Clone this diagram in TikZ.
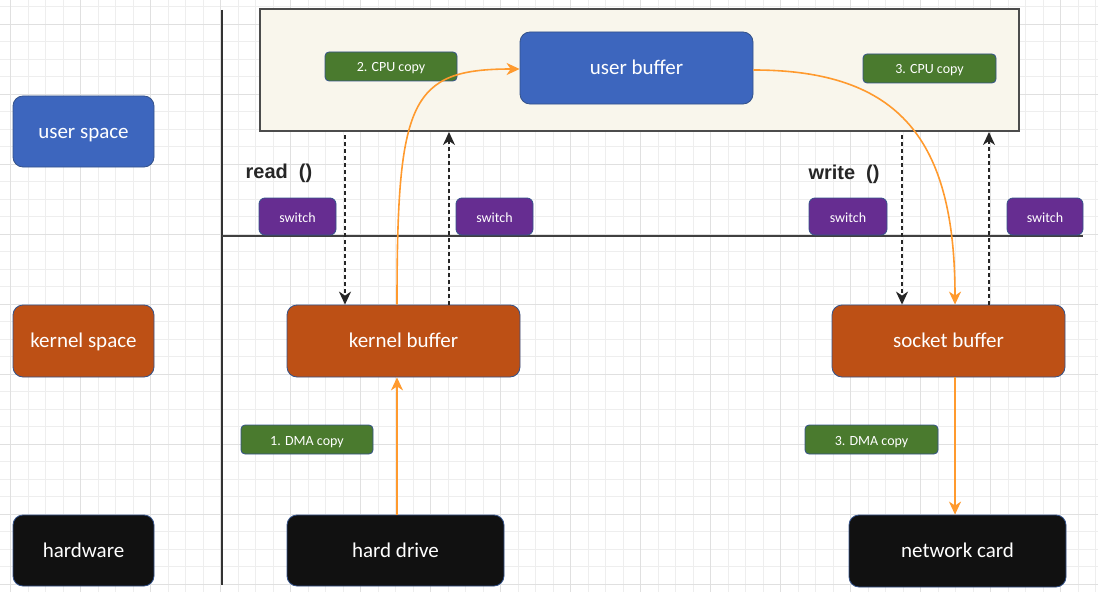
\documentclass[tikz,border=0pt]{standalone}
\usepackage{fontspec}
\setmainfont{Carlito}
\newfontfamily\boldsans{Liberation Sans}
\usetikzlibrary{arrows.meta,calc}
\definecolor{cblue}{HTML}{3D66BE}
\definecolor{cbrown}{HTML}{BD5015}
\definecolor{cblack}{HTML}{111111}
\definecolor{cgreen}{HTML}{4A7A2E}
\definecolor{cpurple}{HTML}{662D91}
\definecolor{corange}{HTML}{FF9A2E}
\definecolor{cedge}{HTML}{34528A}
\definecolor{cpaper}{HTML}{F9F6EC}
\definecolor{gminor}{HTML}{EEEEEE}
\definecolor{gmajor}{HTML}{E0E0E0}
\tikzset{
  bigbox/.style={draw=cedge, line width=0.8pt, rounded corners=10pt, inner sep=0pt,
    text=white, font=\fontsize{21}{24}\selectfont, text height=13pt, text depth=0pt},
  tagbox/.style={draw=cedge, line width=0.8pt, rounded corners=4pt, inner sep=0pt,
    text=white, font=\fontsize{14}{16}\selectfont, fill=cgreen, minimum width=132pt, minimum height=29pt,
    text height=11pt, text depth=0pt},
  swbox/.style={draw=cedge, line width=0.8pt, rounded corners=6pt, inner sep=0pt,
    text=white, font=\fontsize{14}{16}\selectfont, fill=cpurple, minimum height=37pt,
    text height=11pt, text depth=0pt},
  calltext/.style={inner sep=0pt, text=black!85, font=\boldsans\bfseries\fontsize{20}{22}\selectfont},
  flow/.style={draw=corange, line width=1.6pt, -{Stealth[length=13pt,width=12pt,inset=4pt]}},
  ctx/.style={draw=black!85, line width=1.5pt, dash pattern=on 4pt off 3pt,
    -{Stealth[length=13pt,width=12pt,inset=4pt]}}
}
\begin{document}
\begin{tikzpicture}[x=1pt,y=-1pt]
\useasboundingbox (0,0) rectangle (1109,610);
% grid
\foreach \i in {0,...,62} {\draw[gminor, line width=0.8pt] ({10.7+17.5*\i},0) -- ({10.7+17.5*\i},592);}
\foreach \j in {0,...,33} {\draw[gminor, line width=0.8pt] (0,{6.5+17.5*\j}) -- (1098,{6.5+17.5*\j});}
\foreach \i in {0,...,15} {\draw[gmajor, line width=0.9pt] ({10.7+70*\i},0) -- ({10.7+70*\i},592);}
\foreach \j in {0,...,8} {\draw[gmajor, line width=0.9pt] (0,{24+70*\j}) -- (1098,{24+70*\j});}

% axes
\coordinate (axtop) at (222,10);
\coordinate (axbot) at (222,585);
\coordinate (hzend) at (1083,236);
\draw[black!80, line width=2pt] (axtop) -- (axbot);
\draw[black!75, line width=1.4pt] (axtop |- hzend) -- (hzend);

% left labels
\node[bigbox, fill=cblue, minimum width=141pt, minimum height=71pt] (userspace) at (83.5,131.5) {user space};
\node[bigbox, fill=cbrown, minimum width=141pt, minimum height=72pt] (kernelspace) at (83.5,341) {kernel space};
\node[bigbox, fill=cblack, minimum width=141pt, minimum height=71pt] (hardware) at (83.5,550.5) {hardware};

% user area
\node[draw=black!70, fill=cpaper, line width=2pt, minimum width=759pt, minimum height=122pt, inner sep=0pt] (userarea) at (639.5,70) {};
\node[bigbox, fill=cblue, minimum width=233pt, minimum height=72pt] (userbuf) at (636.5,68) {user buffer};
\node[tagbox] (cpu2) at (391,66.5) {2. CPU copy};
\node[tagbox, minimum width=133pt] (cpu3) at (929.5,68.5) {3. CPU copy};

% calls
\node[calltext] (readcall) at (279,173) {read\hspace{11pt}()};
\node[calltext] (writecall) at (844,174) {write\hspace{11pt}()};

% switches
\node[swbox, minimum width=77pt] (sw1) at (297.5,216.5) {switch};
\node[swbox, minimum width=77pt] (sw2) at (494.5,216.5) {switch};
\node[swbox, minimum width=78pt] (sw3) at (848,216.5) {switch};
\node[swbox, minimum width=76pt] (sw4) at (1045,216.5) {switch};

% kernel buffers
\node[bigbox, fill=cbrown, minimum width=233pt, minimum height=72pt] (kbuf) at (403.5,341) {kernel buffer};
\node[bigbox, fill=cbrown, minimum width=233pt, minimum height=72pt] (sbuf) at (948.5,341) {socket buffer};

% hardware
\node[bigbox, fill=cblack, minimum width=217pt, minimum height=71pt] (hdd) at (395.5,550.5) {hard drive};
\node[bigbox, fill=cblack, minimum width=217pt, minimum height=72pt] (nic) at (957.5,551) {network card};

\node[tagbox] (dma1) at (307,439.5) {1. DMA copy};
\node[tagbox, minimum width=133pt] (dma3) at (871.5,439.5) {3. DMA copy};

% context switch arrows
\coordinate (d1) at (345,0);
\coordinate (d2) at (449,0);
\coordinate (d3) at (902,0);
\coordinate (d4) at (989,0);
\draw[ctx] ([yshift=-3pt]d1 |- userarea.south) -- (d1 |- kbuf.north);
\draw[ctx] (d2 |- kbuf.north) -- (d2 |- userarea.south);
\draw[ctx] ([yshift=-3pt]d3 |- userarea.south) -- (d3 |- sbuf.north);
\draw[ctx] (d4 |- sbuf.north) -- (d4 |- userarea.south);

% data flow
\coordinate (f1) at (397,0);
\coordinate (f2) at (955,0);
\draw[flow] (f1 |- hdd.north) -- (f1 |- kbuf.south);
\draw[flow] (f1 |- kbuf.north) .. controls (397,100) and (410,69) .. (userbuf.west |- 0,69);
\draw[flow] (userbuf.east |- 0,70) .. controls (900,70) and (955,140) .. (f2 |- sbuf.north);
\draw[flow] (f2 |- sbuf.south) -- (f2 |- nic.north);
\end{tikzpicture}
\end{document}
